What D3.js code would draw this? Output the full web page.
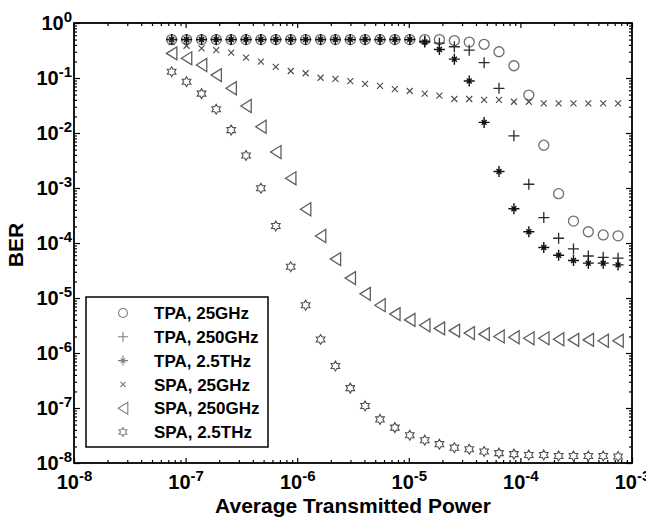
<!DOCTYPE html>
<html>
<head>
<meta charset="utf-8">
<script src="https://cdn.jsdelivr.net/npm/d3@7"></script>
<style>
body { margin: 0; background: #fff; }
svg { font-family: "Liberation Sans", Arial, sans-serif; }
</style>
</head>
<body>
<svg id="chart" width="646" height="519"></svg>
<script>

// average transmitted power (x), same for every curve
var power = [7.5e-8, 1.02e-7, 1.39e-7, 1.88e-7, 2.56e-7, 3.48e-7, 4.73e-7, 6.43e-7, 8.75e-7, 1.19e-6,
             1.62e-6, 2.20e-6, 2.99e-6, 4.06e-6, 5.52e-6, 7.5e-6, 1.02e-5, 1.39e-5, 1.88e-5, 2.56e-5,
             3.48e-5, 4.73e-5, 6.43e-5, 8.75e-5, 1.19e-4, 1.62e-4, 2.20e-4, 2.99e-4, 4.06e-4, 5.52e-4, 7.5e-4];

var tpa25 = [0.5, 0.5, 0.5, 0.5, 0.5, 0.5, 0.5, 0.5, 0.5, 0.5, 0.5, 0.5, 0.5, 0.5, 0.5, 0.5, 0.5, 0.5, 0.5,
             0.48, 0.45, 0.41, 0.30, 0.167, 0.049, 6.0e-3, 7.9e-4, 2.5e-4, 1.6e-4, 1.4e-4, 1.35e-4];
var tpa250 = [0.5, 0.5, 0.5, 0.5, 0.5, 0.5, 0.5, 0.5, 0.5, 0.5, 0.5, 0.5, 0.5, 0.5, 0.5, 0.5, 0.5,
              0.47, 0.43, 0.37, 0.32, 0.19, 0.065, 8.9e-3, 1.17e-3, 2.9e-4, 1.22e-4, 7.8e-5, 5.8e-5, 5.5e-5, 5.3e-5];
var tpa2500 = [0.5, 0.5, 0.5, 0.5, 0.5, 0.5, 0.5, 0.5, 0.5, 0.5, 0.5, 0.5, 0.5, 0.5, 0.5, 0.5, 0.5,
               0.45, 0.33, 0.22, 0.088, 0.0156, 2.0e-3, 4.2e-4, 1.6e-4, 8.3e-5, 6.0e-5, 4.8e-5, 4.3e-5, 4.3e-5, 4.0e-5];
var spa25 = [0.45, 0.386, 0.347, 0.32, 0.29, 0.234, 0.198, 0.16, 0.134, 0.122, 0.101, 0.096, 0.088, 0.078,
             0.0716, 0.063, 0.058, 0.052, 0.048, 0.0415, 0.0415, 0.040, 0.040, 0.037, 0.037,
             0.0347, 0.0347, 0.0347, 0.0347, 0.0347, 0.0347];
var spa250 = [0.28, 0.228, 0.172, 0.113, 0.065, 0.031, 0.013, 4.5e-3, 1.5e-3, 4.1e-4,
              1.34e-4, 5.1e-5, 2.3e-5, 1.19e-5, 7.4e-6, 5.1e-6, 4.0e-6, 3.2e-6, 2.8e-6, 2.55e-6,
              2.3e-6, 2.2e-6, 2.0e-6, 1.93e-6, 1.85e-6, 1.85e-6, 1.78e-6, 1.73e-6, 1.73e-6, 1.67e-6, 1.67e-6];
var spa2500 = [0.130, 0.0857, 0.052, 0.027, 0.0113, 3.9e-3, 9.9e-4, 2.04e-4, 3.7e-5, 7.4e-6,
               1.76e-6, 5.8e-7, 2.3e-7, 1.09e-7, 6.2e-8, 4.4e-8, 3.2e-8, 2.6e-8, 2.2e-8, 1.9e-8,
               1.78e-8, 1.62e-8, 1.51e-8, 1.45e-8, 1.4e-8, 1.4e-8, 1.34e-8, 1.34e-8, 1.34e-8, 1.34e-8, 1.31e-8];

var seriesNames = ["TPA, 25GHz", "TPA, 250GHz", "TPA, 2.5THz", "SPA, 25GHz", "SPA, 250GHz", "SPA, 2.5THz"];

var xTicks = [1e-8, 1e-7, 1e-6, 1e-5, 1e-4, 1e-3];
var xExp = ["-8", "-7", "-6", "-5", "-4", "-3"];
var yTicks = [1e-8, 1e-7, 1e-6, 1e-5, 1e-4, 1e-3, 1e-2, 1e-1, 1];
var yExp = ["-8", "-7", "-6", "-5", "-4", "-3", "-2", "-1", "0"];

var margin = {top: 23, right: 14, bottom: 56, left: 74},
    width = 646 - margin.left - margin.right,
    height = 519 - margin.top - margin.bottom;

var x = d3.scaleLog().domain([1e-8, 1e-3]).range([0, width]);
var y = d3.scaleLog().domain([1e-8, 1]).range([height, 0]);

// marker shapes (stroked, matlab style)
function circlePath(r) {
  return "M" + r + ",0A" + r + "," + r + " 0 1,1 " + (-r) + ",0A" + r + "," + r + " 0 1,1 " + r + ",0";
}
function plusPath(h) { return "M" + (-h) + ",0H" + h + "M0," + (-h) + "V" + h; }
function timesPath(h) { return "M" + (-h) + "," + (-h) + "L" + h + "," + h + "M" + (-h) + "," + h + "L" + h + "," + (-h); }
function starPath(h) { return plusPath(h) + timesPath(h * 0.45); }
function triPath(h) { return "M" + (-h * 0.8) + ",0L" + (h * 0.8) + "," + (-h) + "L" + (h * 0.8) + "," + h + "Z"; }
function hexPath(R) {
  var pts = [];
  for (var k = 0; k < 12; k++) {
    var a = -Math.PI / 2 + k * Math.PI / 6, rr = k % 2 == 0 ? R : R * 0.58;
    pts.push([rr * Math.cos(a), rr * Math.sin(a)]);
  }
  return "M" + pts.join("L") + "Z";
}

var series = [
  {name: seriesNames[0], values: tpa25,   path: circlePath(5),   legend: circlePath(4.5), color: "#6e6e6e", w: 1.3},
  {name: seriesNames[1], values: tpa250,  path: plusPath(5.5),   legend: plusPath(5),     color: "#2a2a2a", w: 1.3},
  {name: seriesNames[2], values: tpa2500, path: starPath(5.5),   legend: starPath(5),     color: "#111",    w: 1.4},
  {name: seriesNames[3], values: spa25,   path: timesPath(3),    legend: timesPath(2.6),  color: "#4a4a4a", w: 1.1},
  {name: seriesNames[4], values: spa250,  path: triPath(6.5),    legend: triPath(6),      color: "#5e5e5e", w: 1.3},
  {name: seriesNames[5], values: spa2500, path: hexPath(5),      legend: hexPath(4.5),    color: "#505050", w: 1.1}
];

var svg = d3.select("#chart")
  .append("g")
    .attr("transform", "translate(" + margin.left + "," + margin.top + ")");

var xMinor = x.ticks().filter(function(d) { return xTicks.indexOf(d) < 0; });
var yMinor = y.ticks().filter(function(d) { return yTicks.indexOf(d) < 0; });

function plain(g) { g.select(".domain").remove(); g.selectAll("text").remove(); g.selectAll("line").attr("stroke", "#000").attr("stroke-width", 1.2); }

// minor ticks all around
svg.append("g").attr("transform", "translate(0," + height + ")")
  .call(d3.axisBottom(x).tickValues(xMinor).tickSize(-3)).call(plain);
svg.append("g").call(d3.axisTop(x).tickValues(xMinor).tickSize(-3)).call(plain);
svg.append("g").call(d3.axisLeft(y).tickValues(yMinor).tickSize(-3)).call(plain);
svg.append("g").attr("transform", "translate(" + width + ",0)")
  .call(d3.axisRight(y).tickValues(yMinor).tickSize(-3)).call(plain);

// major ticks
svg.append("g").call(d3.axisTop(x).tickValues(xTicks).tickSize(-5)).call(plain);
svg.append("g").attr("transform", "translate(" + width + ",0)")
  .call(d3.axisRight(y).tickValues(yTicks).tickSize(-6)).call(plain);

var xAxis = svg.append("g")
    .attr("transform", "translate(0," + height + ")")
    .call(d3.axisBottom(x).tickValues(xTicks).tickSize(-5).tickPadding(12).tickFormat(""));
xAxis.select(".domain").remove();
xAxis.selectAll("line").attr("stroke", "#000").attr("stroke-width", 1.2);
xAxis.selectAll("text").each(function(d, i) {
  var t = d3.select(this).attr("fill", "#000").style("font-size", "20px").style("font-weight", "bold");
  t.append("tspan").text("10");
  t.append("tspan").attr("dy", "-8").style("font-size", "15px").text(xExp[i]);
});

var yAxis = svg.append("g")
    .call(d3.axisLeft(y).tickValues(yTicks).tickSize(-6).tickPadding(2).tickFormat(""));
yAxis.select(".domain").remove();
yAxis.selectAll("line").attr("stroke", "#000").attr("stroke-width", 1.2);
yAxis.selectAll("text").each(function(d, i) {
  var t = d3.select(this).attr("fill", "#000").style("font-size", "20px").style("font-weight", "bold");
  t.append("tspan").text("10");
  t.append("tspan").attr("dy", "-8").style("font-size", "15px").text(yExp[i]);
});

// frame
svg.append("rect")
  .attr("width", width).attr("height", height)
  .attr("fill", "none").attr("stroke", "#000").attr("stroke-width", 1.8);

// axis titles
svg.append("text")
  .attr("x", width / 2).attr("y", height + 50)
  .attr("text-anchor", "middle")
  .style("font-size", "21px").style("font-weight", "bold")
  .text("Average Transmitted Power");

svg.append("text")
  .attr("transform", "rotate(-90)")
  .attr("x", -(height / 2) - 2).attr("y", -51)
  .attr("text-anchor", "middle")
  .style("font-size", "21px").style("font-weight", "bold")
  .text("BER");

// markers
series.forEach(function(s) {
  svg.append("g").selectAll("path")
      .data(s.values)
    .enter().append("path")
      .attr("d", s.path)
      .attr("transform", function(d, i) { return "translate(" + x(power[i]) + "," + y(d) + ")"; })
      .attr("fill", "none")
      .attr("stroke", s.color)
      .attr("stroke-width", s.w);
});

// legend
var legend = svg.append("g").attr("transform", "translate(" + (86 - margin.left) + "," + (297 - margin.top) + ")");
legend.append("rect")
  .attr("width", 182).attr("height", 150)
  .attr("fill", "#fff").attr("stroke", "#000").attr("stroke-width", 1.5);

var item = legend.selectAll(".item")
    .data(series)
  .enter().append("g")
    .attr("class", "item")
    .attr("transform", function(d, i) { return "translate(0," + (16 + i * 23.8) + ")"; });

item.append("path")
  .attr("d", function(d) { return d.legend; })
  .attr("transform", "translate(37,0)")
  .attr("fill", "none").attr("stroke", "#808080").attr("stroke-width", 1.1);

item.append("text")
  .attr("x", 68).attr("dy", "0.36em")
  .style("font-size", "17px").style("font-weight", "bold")
  .text(function(d) { return d.name; });

</script>
</body>
</html>
